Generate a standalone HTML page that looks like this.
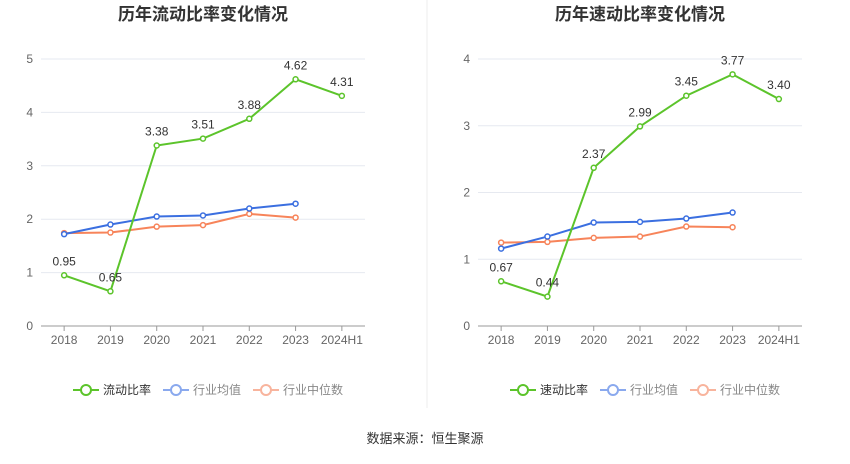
<!DOCTYPE html>
<html><head><meta charset="utf-8"><style>
body{margin:0;background:#fff;width:850px;height:459px;overflow:hidden;font-family:"Liberation Sans","Noto Sans CJK SC",sans-serif}
</style></head><body>
<svg id="s" width="850" height="459" xmlns="http://www.w3.org/2000/svg">
<line x1="427" y1="0" x2="427" y2="408" stroke="#eee"/>
<text x="425" y="443" font-size="13" fill="#333" text-anchor="middle">数据来源：恒生聚源</text>
</svg>
<script>
const categories=["2018","2019","2020","2021","2022","2023","2024H1"];
const currentRatio=[0.95,0.65,3.38,3.51,3.88,4.62,4.31];
const currentAvg=[1.72,1.90,2.05,2.07,2.20,2.29];
const currentMedian=[1.74,1.75,1.86,1.89,2.10,2.03];
const quickRatio=[0.67,0.44,2.37,2.99,3.45,3.77,3.40];
const quickAvg=[1.16,1.34,1.55,1.56,1.61,1.70];
const quickMedian=[1.25,1.26,1.32,1.34,1.49,1.48];
const leftTicks=[0,1,2,3,4,5];
const rightTicks=[0,1,2,3,4];
const svg=document.getElementById('s');
const NS="http://www.w3.org/2000/svg";
function mk(tag,attrs,parent){const e=document.createElementNS(NS,tag);for(const k in attrs)e.setAttribute(k,attrs[k]);(parent||svg).appendChild(e);return e;}
function chart(o){
  const g=mk('g',{});
  
  
  const y0=326,y1=59,max=o.ticks[o.ticks.length-1];
  const ys=v=>y0-(v/max)*(y0-y1);
  const step=(o.x1-o.x0)/categories.length;
  const xs=i=>o.x0+step*(i+0.5);
  const t=mk('text',{x:(o.x0+o.x1)/2,y:20,'font-size':17,'font-weight':'bold',fill:'#333','text-anchor':'middle'},g);
  t.textContent=o.title;
  
  
  o.ticks.forEach(v=>{
    const l=mk('line',{x1:o.x0,x2:o.x1,y1:ys(v),y2:ys(v),stroke:v===0?'#999':'#e6e9f0'},g);
    
    
    const tx=mk('text',{x:o.x0-8,y:ys(v)+4,'font-size':12,fill:'#666','text-anchor':'end'},g);
    tx.textContent=v;
    
    
  });
  categories.forEach((c,i)=>{
    const tk=mk('line',{x1:xs(i),x2:xs(i),y1:y0,y2:y0+5,stroke:'#999'},g);
    
    
    const tx=mk('text',{x:xs(i),y:344,'font-size':12,fill:'#666','text-anchor':'middle'},g);
    tx.textContent=c;
    
    
  });
  function series(vals,color,nm,labels){
    const p=mk('polyline',{points:vals.map((v,i)=>xs(i)+','+ys(v)).join(' '),fill:'none',stroke:color,'stroke-width':2},g);
    
    
    vals.forEach((v,i)=>{
      const c=mk('circle',{cx:xs(i),cy:ys(v),r:2.5,fill:'#fff',stroke:color,'stroke-width':1.5},g);
      
      
      if(labels){
        const tx=mk('text',{x:xs(i),y:ys(v)-10,'font-size':12,fill:'#333','text-anchor':'middle'},g);
        tx.textContent=v.toFixed(2);
        
        
      }
    });
  }
  series(o.median,'#f7845a','industry-median');
  series(o.avg,'#3b6fe0','industry-average');
  series(o.main,'#5cc42b','main-ratio',true);
  const lg=[[o.mainName,'#5cc42b'],['行业均值','#8aa9ee'],['行业中位数','#f8b49d']];
  let lx=o.legendX;
  lg.forEach((e,i)=>{
    const lgg=mk('g',{},g);
    
    
    mk('line',{x1:lx,x2:lx+26,y1:390,y2:390,stroke:e[1],'stroke-width':2},lgg);
    mk('circle',{cx:lx+13,cy:390,r:5,fill:'#fff',stroke:e[1],'stroke-width':2},lgg);
    const tx=mk('text',{x:lx+30,y:394,'font-size':12,fill:i===0?'#333':'#888'},lgg);
    tx.textContent=e[0];
    lx+=30+e[0].length*12+12;
  });
}
chart({name:'current-ratio-chart',title:'历年流动比率变化情况',x0:41,x1:365,ticks:leftTicks,main:currentRatio,avg:currentAvg,median:currentMedian,mainName:'流动比率',legendX:73});
chart({name:'quick-ratio-chart',title:'历年速动比率变化情况',x0:478,x1:802,ticks:rightTicks,main:quickRatio,avg:quickAvg,median:quickMedian,mainName:'速动比率',legendX:510});
</script>
</body></html>
